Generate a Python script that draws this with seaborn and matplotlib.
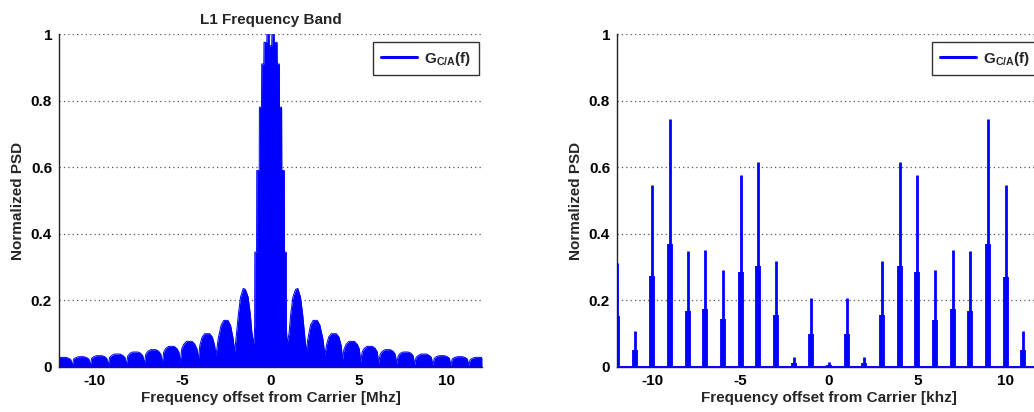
import matplotlib
matplotlib.use("Agg")
import matplotlib.pyplot as plt
from matplotlib.lines import Line2D
import seaborn as sns

# Upper sideband of the L1 C/A-code spectrum envelope
# (offset from carrier in MHz, normalized PSD); the lower sideband mirrors it.
usb_mhz = [0.00, 0.07, 0.08, 0.20, 0.21, 0.37, 0.38, 0.50, 0.51, 0.63,
           0.64, 0.78, 0.79, 0.89, 0.90, 0.94,
           1.05, 1.15, 1.27, 1.42, 1.55, 1.70, 1.82, 1.93, 2.03,
           2.12, 2.27, 2.42, 2.65, 2.80, 2.97, 3.09,
           3.17, 3.30, 3.45, 3.73, 3.88, 4.01, 4.09,
           4.17, 4.30, 4.45, 4.76, 4.91, 5.04, 5.12,
           5.20, 5.32, 5.48, 5.78, 5.94, 6.06, 6.14,
           6.22, 6.34, 6.50, 6.80, 6.96, 7.08, 7.16,
           7.24, 7.36, 7.52, 7.82, 7.98, 8.10, 8.18,
           8.26, 8.39, 8.54, 8.85, 9.00, 9.13, 9.21,
           9.29, 9.41, 9.57, 9.87, 10.03, 10.15, 10.23,
           10.31, 10.43, 10.59, 10.89, 11.05, 11.17, 11.25,
           11.33, 11.45, 11.61, 11.91, 12.00]
usb_psd = [0.965, 0.965, 1.000, 1.000, 0.975, 0.975, 0.910, 0.910, 0.780, 0.780,
           0.590, 0.590, 0.345, 0.345, 0.120, 0.069,
           0.100, 0.160, 0.210, 0.233, 0.236, 0.210, 0.160, 0.100, 0.046,
           0.085, 0.126, 0.140, 0.140, 0.126, 0.085, 0.035,
           0.065, 0.090, 0.100, 0.100, 0.090, 0.065, 0.023,
           0.054, 0.069, 0.077, 0.077, 0.069, 0.054, 0.015,
           0.045, 0.056, 0.062, 0.062, 0.056, 0.045, 0.011,
           0.038, 0.047, 0.052, 0.052, 0.047, 0.038, 0.009,
           0.033, 0.041, 0.045, 0.045, 0.041, 0.033, 0.007,
           0.029, 0.035, 0.039, 0.039, 0.035, 0.029, 0.005,
           0.026, 0.031, 0.034, 0.034, 0.031, 0.026, 0.004,
           0.024, 0.028, 0.031, 0.031, 0.028, 0.024, 0.004,
           0.022, 0.026, 0.029, 0.029, 0.028]

# Line structure near the carrier: one spectral line per kHz (code period 1 ms)
line_khz = [-12, -11, -10, -9, -8, -7, -6, -5, -4, -3, -2, -1, 0,
            1, 2, 3, 4, 5, 6, 7, 8, 9, 10, 11, 12]
line_peak = [0.313, 0.108, 0.547, 0.746, 0.349, 0.352, 0.291, 0.576, 0.615, 0.317,
             0.031, 0.206, 0.014,
             0.206, 0.031, 0.317, 0.615, 0.576, 0.291, 0.352, 0.349, 0.746, 0.547,
             0.108, 0.313]
line_shoulder = [0.152, 0.051, 0.273, 0.370, 0.168, 0.174, 0.144, 0.286, 0.304, 0.156,
                 0.013, 0.099, 0.006,
                 0.100, 0.013, 0.156, 0.303, 0.286, 0.141, 0.174, 0.168, 0.370, 0.270,
                 0.050, 0.152]

x_ticks = [-10, -5, 0, 5, 10]
y_ticks = [0, 0.2, 0.4, 0.6, 0.8, 1.0]
y_tick_labels = ["0", "0.2", "0.4", "0.6", "0.8", "1"]

legend_label = r"G$_{\mathrm{C/A}}$(f)"
blue = "#0000ff"

# full two-sided spectrum
band_mhz = [-f for f in usb_mhz[:0:-1]] + usb_mhz
band_psd = usb_psd[:0:-1] + usb_psd

sns.set_theme(style="white")
plt.rcParams.update({
    "font.family": ["Liberation Sans", "DejaVu Sans"],
    "font.weight": "bold",
    "axes.labelweight": "bold",
    "axes.titleweight": "bold",
    "mathtext.fontset": "custom",
    "mathtext.rm": "Liberation Sans:bold",
    "mathtext.it": "Liberation Sans:bold",
})

fig = plt.figure(figsize=(10.34, 4.12), dpi=100)
W, H = 1034, 412
ax1 = fig.add_axes([59 / W, 45 / H, 423 / W, 333 / H])
ax2 = fig.add_axes([617 / W, 45 / H, 424 / W, 333 / H])

# left: whole L1 band
ax1.fill_between(band_mhz, 0, band_psd, color=blue, linewidth=0, zorder=2)
sns.lineplot(x=band_mhz, y=band_psd, ax=ax1, color=blue, linewidth=0.7,
             sort=False, estimator=None, legend=False, zorder=3)
ax1.set_title("L1 Frequency Band", fontsize=11, pad=7)
ax1.set_xlabel("Frequency offset from Carrier [Mhz]", fontsize=11, labelpad=2)

# right: close-up showing the individual 1 kHz lines
ax2.vlines(line_khz, 0, line_peak, color=blue, linewidth=2.0, zorder=3)
ax2.vlines(line_khz, 0, line_shoulder, color=blue, linewidth=4.2, zorder=3)
ax2.axhline(0, color=blue, linewidth=2.2, zorder=3)
ax2.set_xlabel("Frequency offset from Carrier [khz]", fontsize=11, labelpad=2)

for ax in (ax1, ax2):
    ax.set_xlim(-12, 12)
    ax.set_ylim(0, 1)
    ax.set_xticks(x_ticks)
    ax.set_xticklabels([str(t) for t in x_ticks])
    ax.set_yticks(y_ticks)
    ax.set_yticklabels(y_tick_labels)
    ax.set_ylabel("Normalized PSD", fontsize=11, labelpad=4)
    ax.set_axisbelow(True)
    ax.yaxis.grid(True, linestyle=(0, (1, 2.5)), color="#555555", linewidth=0.9)
    ax.xaxis.grid(False)
    for side in ("top", "right"):
        ax.spines[side].set_visible(False)
    for side in ("left", "bottom"):
        ax.spines[side].set_color("#222222")
        ax.spines[side].set_linewidth(1.0)
    ax.tick_params(axis="both", direction="in", length=3, width=0.8,
                   labelsize=11, colors="black", pad=5)
    handle = Line2D([], [], color=blue, linewidth=2.2)
    leg = ax.legend([handle], [legend_label], loc="upper right",
                    bbox_to_anchor=(0.993, 0.976), borderaxespad=0,
                    fancybox=False, framealpha=1, edgecolor="#333333",
                    fontsize=11, handlelength=2.4, handletextpad=0.45,
                    borderpad=0.5)
    leg.get_frame().set_linewidth(1.0)

fig.savefig("out.png", dpi=100)
